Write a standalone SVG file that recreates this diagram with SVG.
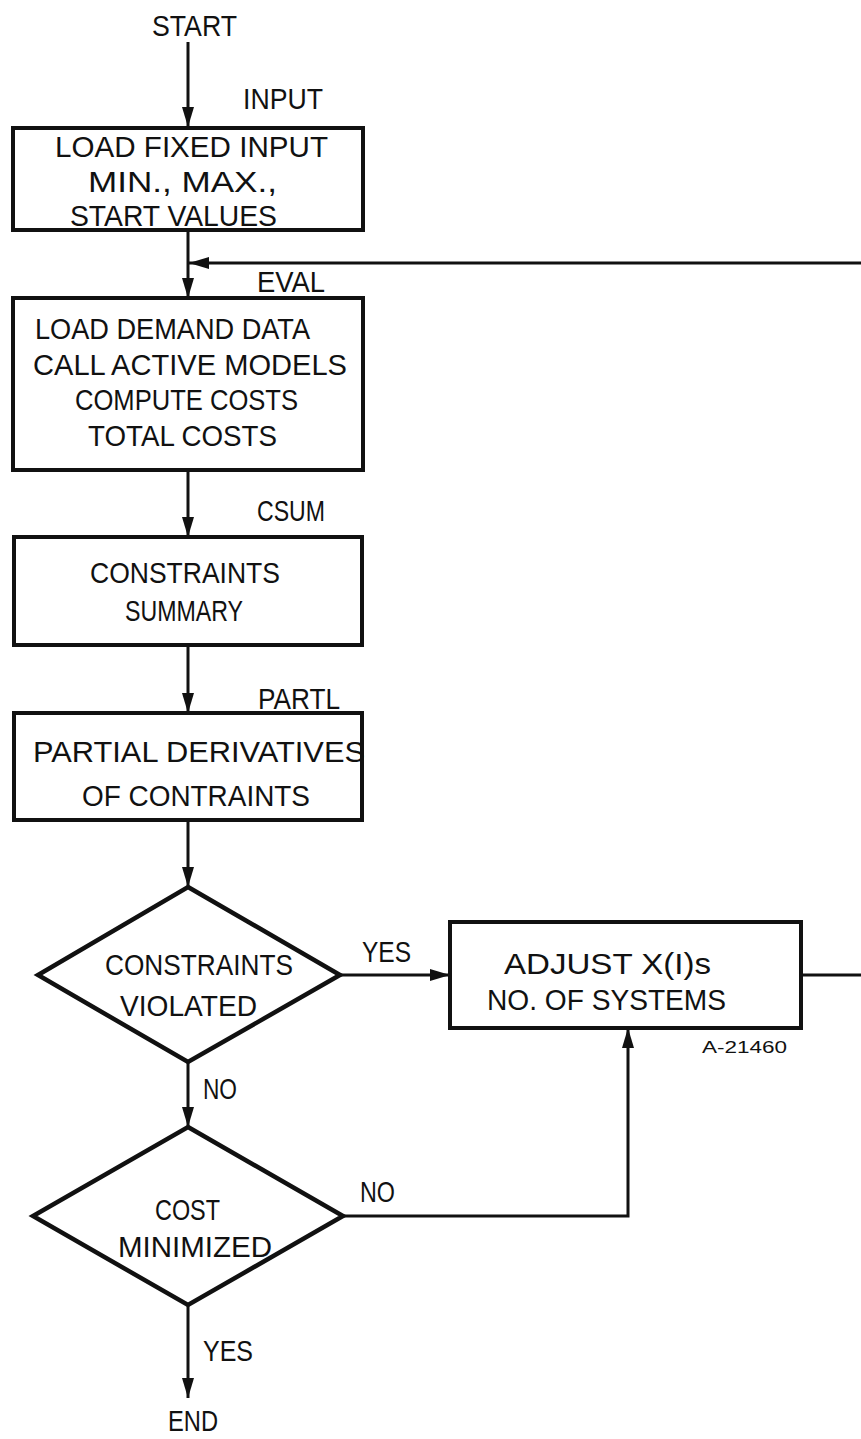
<svg xmlns="http://www.w3.org/2000/svg" width="861" height="1439" viewBox="0 0 861 1439">
<style>
text{font-family:"Liberation Sans",Arial,sans-serif;font-size:30px;fill:#111;}
.small{font-size:16px;}
.box{fill:#fff;stroke:#111;stroke-width:4;}
.dia{fill:#fff;stroke:#111;stroke-width:4.5;stroke-linejoin:miter;}
.con{fill:none;stroke:#111;stroke-width:3;}
</style>
<defs>
<marker id="ah" markerUnits="userSpaceOnUse" markerWidth="22" markerHeight="14" refX="20" refY="7" orient="auto">
<path d="M0,1 L20,7 L0,13 Z" fill="#111"/>
</marker>
</defs>
<rect width="861" height="1439" fill="#fff"/>
<g id="connectors">
<line class="con" x1="188" y1="42" x2="188" y2="127" marker-end="url(#ah)"/>
<line class="con" x1="188" y1="230" x2="188" y2="298" marker-end="url(#ah)"/>
<line class="con" x1="861" y1="263" x2="189" y2="263" marker-end="url(#ah)"/>
<line class="con" x1="188" y1="470" x2="188" y2="537" marker-end="url(#ah)"/>
<line class="con" x1="188" y1="645" x2="188" y2="713" marker-end="url(#ah)"/>
<line class="con" x1="188" y1="820" x2="188" y2="887" marker-end="url(#ah)"/>
<line class="con" x1="188" y1="1062" x2="188" y2="1127" marker-end="url(#ah)"/>
<line class="con" x1="340" y1="975" x2="450" y2="975" marker-end="url(#ah)"/>
<polyline class="con" points="343,1216 628,1216 628,1028" marker-end="url(#ah)"/>
<line class="con" x1="801" y1="975" x2="861" y2="975"/>
<line class="con" x1="188" y1="1305" x2="188" y2="1398" marker-end="url(#ah)"/>
<text x="362" y="962" textLength="49" lengthAdjust="spacingAndGlyphs">YES</text>
<text x="203" y="1099" textLength="34" lengthAdjust="spacingAndGlyphs">NO</text>
<text x="360" y="1202" textLength="35" lengthAdjust="spacingAndGlyphs">NO</text>
<text x="203" y="1361" textLength="50" lengthAdjust="spacingAndGlyphs">YES</text>
</g>
<g id="start">
<text x="152" y="36" textLength="85" lengthAdjust="spacingAndGlyphs">START</text>
</g>
<g id="input">
<rect class="box" x="13" y="128" width="350" height="102"/>
<text x="243" y="109" textLength="80" lengthAdjust="spacingAndGlyphs">INPUT</text>
<text x="55" y="157" textLength="273" lengthAdjust="spacingAndGlyphs">LOAD FIXED INPUT</text>
<text x="88" y="192" textLength="189" lengthAdjust="spacingAndGlyphs">MIN., MAX.,</text>
<text x="70" y="226" textLength="207" lengthAdjust="spacingAndGlyphs">START VALUES</text>
</g>
<g id="eval">
<rect class="box" x="13" y="298" width="350" height="172"/>
<text x="257" y="292" textLength="68" lengthAdjust="spacingAndGlyphs">EVAL</text>
<text x="35" y="339" textLength="275" lengthAdjust="spacingAndGlyphs">LOAD DEMAND DATA</text>
<text x="33" y="375" textLength="314" lengthAdjust="spacingAndGlyphs">CALL ACTIVE MODELS</text>
<text x="75" y="410" textLength="223" lengthAdjust="spacingAndGlyphs">COMPUTE COSTS</text>
<text x="88" y="446" textLength="189" lengthAdjust="spacingAndGlyphs">TOTAL COSTS</text>
</g>
<g id="csum">
<rect class="box" x="14" y="537" width="348" height="108"/>
<text x="257" y="521" textLength="68" lengthAdjust="spacingAndGlyphs">CSUM</text>
<text x="90" y="583" textLength="190" lengthAdjust="spacingAndGlyphs">CONSTRAINTS</text>
<text x="125" y="621" textLength="118" lengthAdjust="spacingAndGlyphs">SUMMARY</text>
</g>
<g id="partl">
<rect class="box" x="14" y="713" width="348" height="107"/>
<text x="258" y="709" textLength="82" lengthAdjust="spacingAndGlyphs">PARTL</text>
<text x="33" y="762" textLength="332" lengthAdjust="spacingAndGlyphs">PARTIAL DERIVATIVES</text>
<text x="82" y="806" textLength="228" lengthAdjust="spacingAndGlyphs">OF CONTRAINTS</text>
</g>
<g id="violated">
<polygon class="dia" points="188,887 340,975 188,1062 38,975"/>
<text x="105" y="975" textLength="188" lengthAdjust="spacingAndGlyphs">CONSTRAINTS</text>
<text x="120" y="1016" textLength="137" lengthAdjust="spacingAndGlyphs">VIOLATED</text>
</g>
<g id="minimized">
<polygon class="dia" points="188,1127 343,1216 188,1305 33,1216"/>
<text x="155" y="1220" textLength="65" lengthAdjust="spacingAndGlyphs">COST</text>
<text x="118" y="1257" textLength="154" lengthAdjust="spacingAndGlyphs">MINIMIZED</text>
</g>
<g id="adjust">
<rect class="box" x="450" y="922" width="351" height="106"/>
<text x="504" y="974" textLength="207" lengthAdjust="spacingAndGlyphs">ADJUST X(I)s</text>
<text x="487" y="1010" textLength="239" lengthAdjust="spacingAndGlyphs">NO. OF SYSTEMS</text>
<text class="small" x="702" y="1053" textLength="85" lengthAdjust="spacingAndGlyphs">A-21460</text>
</g>
<g id="end">
<text x="168" y="1431" textLength="50" lengthAdjust="spacingAndGlyphs">END</text>
</g>
</svg>
